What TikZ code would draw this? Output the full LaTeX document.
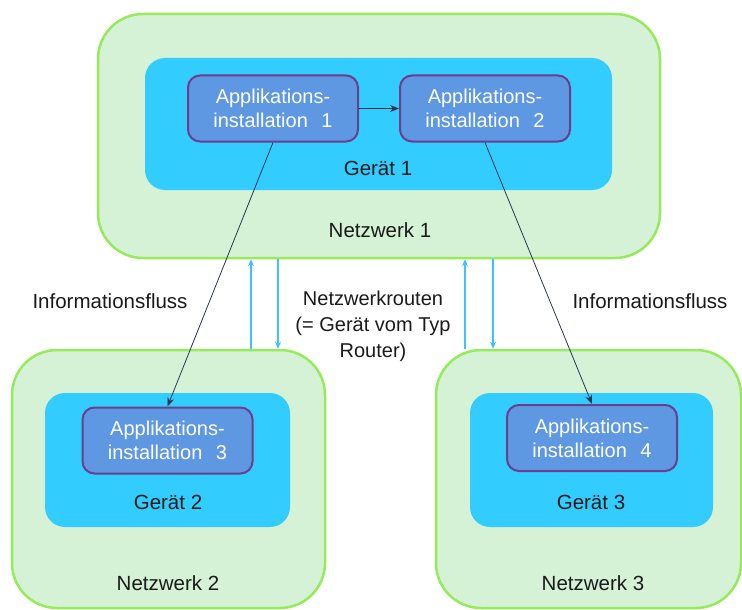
\documentclass[tikz,border=0pt]{standalone}
\usepackage{fontspec}
\setmainfont{Liberation Sans}
\usetikzlibrary{arrows.meta}

\definecolor{netfill}{HTML}{D5F2D6}
\definecolor{netdraw}{HTML}{95EB5A}
\definecolor{devfill}{HTML}{33CCFF}
\definecolor{appfill}{HTML}{5E97E2}
\definecolor{appdraw}{HTML}{6B3F8C}
\definecolor{routeblue}{HTML}{3DC2FF}
\definecolor{flowline}{HTML}{2B3550}
\definecolor{txt}{HTML}{1A1A1A}

\begin{document}
\begin{tikzpicture}[x=1pt, y=-1pt, font=\fontsize{20.5}{25}\selectfont, text=txt,
    netbox/.style={draw=netdraw, line width=2.5pt, fill=netfill, rounded corners=45pt, inner sep=0pt},
    devbox/.style={fill=devfill, rounded corners=20pt, inner sep=0pt},
    appbox/.style={draw=appdraw, line width=2pt, fill=appfill, rounded corners=12pt,
        text=white, align=center, inner sep=0pt, minimum width=170pt, minimum height=66pt,
        font=\fontsize{20}{24}\selectfont},
    route/.style={routeblue, line width=1.8pt, -{Stealth[length=7pt,width=6pt]}},
    flow/.style={flowline, line width=0.8pt, -{Stealth[length=9pt,width=7pt]}}]
    % fix the page size
    \path[use as bounding box] (0,0) rectangle (742,610);

    % Networks
    \node[netbox, minimum width=562pt, minimum height=244pt] (net1) at (379,136) {};
    \node[netbox, minimum width=313pt, minimum height=258pt] (net2) at (168.5,479) {};
    \node[netbox, minimum width=305pt, minimum height=258pt] (net3) at (588.5,479) {};

    % Devices
    \node[devbox, minimum width=467pt, minimum height=132pt] (dev1) at (378.5,124) {};
    \node[devbox, minimum width=245pt, minimum height=134pt] (dev2) at (167.5,460) {};
    \node[devbox, minimum width=243pt, minimum height=134pt] (dev3) at (591.5,460) {};

    % Application installations
    \node[appbox] (app1) at (273,108.5) {Applikations-\\installation\hspace{0.4em} 1};
    \node[appbox] (app2) at (485,108.5) {Applikations-\\installation\hspace{0.4em} 2};
    \node[appbox] (app3) at (167.5,440.5) {Applikations-\\installation\hspace{0.4em} 3};
    \node[appbox] (app4) at (592,438) {Applikations-\\installation\hspace{0.4em} 4};

    % Labels
    \node (dev1lbl) at (378,168) {Gerät 1};
    \node (dev2lbl) at (168,502) {Gerät 2};
    \node (dev3lbl) at (591,502) {Gerät 3};
    \node (net1lbl) at (380,230) {Netzwerk 1};
    \node (net2lbl) at (168,583) {Netzwerk 2};
    \node (net3lbl) at (593,583) {Netzwerk 3};
    \node (info1) at (110,301) {Informationsfluss};
    \node (info2) at (650,301) {Informationsfluss};
    \node[align=center, font=\fontsize{20}{26}\selectfont] (routes) at (373,326)
        {Netzwerkrouten\\(= Gerät vom Typ\\Router)};

    % Network routes
    \coordinate (r1) at (251,0);
    \coordinate (r2) at (278,0);
    \coordinate (r3) at (465,0);
    \coordinate (r4) at (493,0);
    \draw[route] (r1 |- net2.north) -- (r1 |- net1.south);
    \draw[route] (r2 |- net1.south) -- (r2 |- net2.north);
    \draw[route] (r3 |- net3.north) -- (r3 |- net1.south);
    \draw[route] (r4 |- net1.south) -- (r4 |- net3.north);

    % Information flow
    \draw[flow] (app1) -- (app2);
    \draw[flow] (app1.south) -- (app3.north);
    \draw[flow] (app2.south) -- (app4.north);
\end{tikzpicture}
\end{document}
